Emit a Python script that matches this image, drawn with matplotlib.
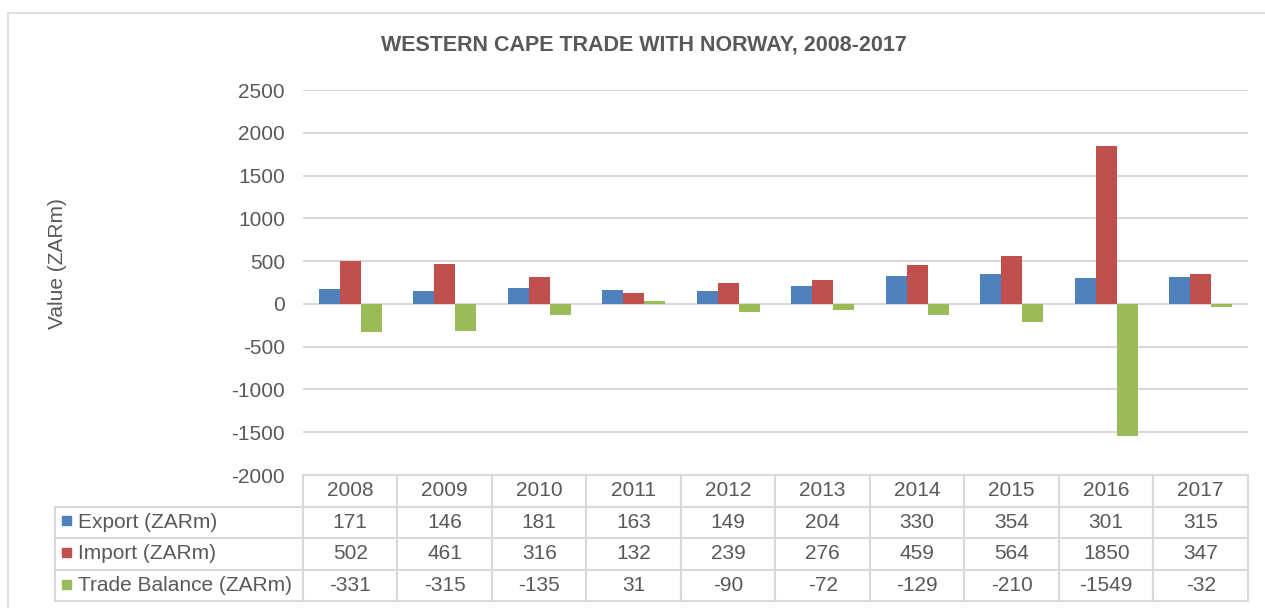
import matplotlib.pyplot as plt
import numpy as np
from matplotlib.lines import Line2D
from matplotlib.patches import Rectangle

plt.rcParams['font.family'] = ['Liberation Sans', 'DejaVu Sans']

# Data
years = ['2008', '2009', '2010', '2011', '2012', '2013', '2014', '2015', '2016', '2017']
export = [171, 146, 181, 163, 149, 204, 330, 354, 301, 315]
imports = [502, 461, 316, 132, 239, 276, 459, 564, 1850, 347]
balance = [-331, -315, -135, 31, -90, -72, -129, -210, -1549, -32]
series_names = ['Export (ZARm)', 'Import (ZARm)', 'Trade Balance (ZARm)']
colors = ['#4F81BD', '#C0504D', '#9BBB59']
yticks = [-2000, -1500, -1000, -500, 0, 500, 1000, 1500, 2000, 2500]

W, H = 1265, 608
fig = plt.figure(figsize=(W / 100, H / 100), dpi=100, facecolor='white')

# outer chart frame
fig.add_artist(Line2D([8 / W, 8 / W], [0, 1 - 13 / H], color='#D9D9D9', lw=1.2))
fig.add_artist(Line2D([8 / W, 1], [1 - 13 / H, 1 - 13 / H], color='#D9D9D9', lw=1.2))

left, right = 303 / W, 1248 / W
top, bottom = 1 - 90 / H, 1 - 475 / H
ax = fig.add_axes([left, bottom, right - left, top - bottom])

x = np.arange(len(years))
bw = 0.222
for i, (vals, c) in enumerate(zip([export, imports, balance], colors)):
    ax.bar(x + (i - 1) * bw, vals, width=bw, color=c, zorder=3)

ax.set_xlim(-0.5, len(years) - 0.5)
ax.set_ylim(-2000, 2500)
ax.set_yticks(yticks)
ax.set_yticklabels([str(t) for t in yticks])
ax.set_xticks([])
ax.yaxis.grid(True, color='#D9D9D9', lw=1.5, zorder=0)
ax.tick_params(axis='y', length=0, pad=13, labelsize=15, labelcolor='#595959')
for s in ax.spines.values():
    s.set_visible(False)

ax.set_ylabel('Value (ZARm)', fontsize=15, color='#595959')
ax.yaxis.set_label_coords(-236 / 945, 0.55)

fig.text(0.5 * (380 + 907) / W, 1 - 45 / H, 'WESTERN CAPE TRADE WITH NORWAY, 2008-2017',
         ha='center', va='center', fontsize=15.5, fontweight='bold', color='#595959')

# data table
axw = 945
axh = 385
lab_w = (303 - 55) / axw
cell_text = [[''] + years]
for name, vals in zip(series_names, [export, imports, balance]):
    cell_text.append([name] + [str(v) for v in vals])
col_widths = [lab_w] + [1 / len(years)] * len(years)
tb = ax.table(cellText=cell_text, colWidths=col_widths, cellLoc='center',
              bbox=[-lab_w, -(601 - 475) / axh, 1 + lab_w, (601 - 475) / axh])
tb.auto_set_font_size(False)
tb.set_fontsize(15)
for (r, c), cell in tb.get_celld().items():
    cell.set_edgecolor('#D9D9D9')
    cell.set_linewidth(1.5)
    cell.get_text().set_color('#595959')
    if c == 0:
        cell.get_text().set_ha('left')
        cell._loc = 'left'
        cell.PAD = 23 / 248
    if r == 0 and c == 0:
        cell.set_edgecolor('white')
        cell.set_linewidth(0)

# legend keys in table rows
row_centers = [521, 553, 585]
for yc, c in zip(row_centers, colors):
    fig.add_artist(Rectangle((62 / W, 1 - (yc + 4) / H), 9 / W, 9 / H,
                             color=c, transform=fig.transFigure))

fig.savefig('out.png', dpi=100, facecolor='white')
